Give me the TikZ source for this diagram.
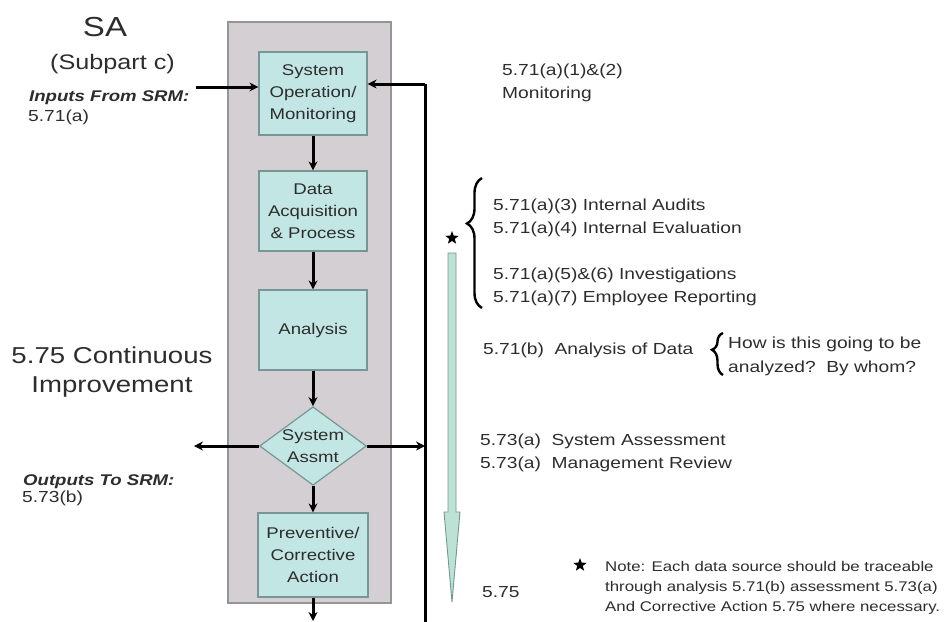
\documentclass[tikz,border=0pt]{standalone}
\usepackage{fontspec}
\setmainfont[FakeStretch=1.2]{Liberation Sans}
\usetikzlibrary{shapes.geometric,arrows.meta,decorations.pathreplacing}
\definecolor{panel}{RGB}{212,207,210}
\definecolor{panelline}{RGB}{150,148,150}
\definecolor{boxfill}{RGB}{194,230,228}
\definecolor{boxline}{RGB}{120,150,150}
\definecolor{ink}{RGB}{45,45,45}
\definecolor{shaft}{RGB}{188,226,214}
\definecolor{shaftline}{RGB}{120,150,145}
\begin{document}
\begin{tikzpicture}[x=1pt,y=-1pt,
  proc/.style={draw=boxline, line width=1.2pt, fill=boxfill, minimum width=108pt,
    align=center, font=\fontsize{15.5}{22}\selectfont, text=ink, inner sep=0pt},
  arr/.style={draw=black, line width=3pt, -{Stealth[length=9pt,width=9pt]}},
  lbl/.style={anchor=base west, text=ink, font=\fontsize{16}{23}\selectfont, align=left, inner sep=0pt},
  lblsm/.style={lbl, font=\fontsize{14}{20}\selectfont},
  brc/.style={draw=black, line width=2.4pt, decorate},
  starmark/.style={star, star points=5, star point ratio=2.4, fill=black, inner sep=0pt, minimum size=14pt}
]
\clip (0,0) rectangle (949,621);
\fill[white] (0,0) rectangle (949,621);

% panel
\node[draw=panelline, fill=panel, line width=1.5pt, minimum width=163pt, minimum height=581pt, inner sep=0pt] (panel) at (309.5,312.5) {};

% process boxes
\node[proc, minimum height=83pt] (b1) at (313,93.5) {System\\Operation/\\Monitoring};
\node[proc, minimum height=80pt] (b2) at (313,211) {Data\\Acquisition\\\& Process};
\node[proc, minimum height=80pt] (b3) at (313,330) {Analysis};
\node[diamond, draw=boxline, fill=boxfill, line width=1.2pt, minimum width=106pt, minimum height=78pt,
  inner sep=0pt, aspect=1.36, align=center, font=\fontsize{15.5}{22}\selectfont, text=ink] (d) at (313,446) {System\\Assmt};
\node[proc, minimum height=84pt, minimum width=110pt] (b5) at (313,555) {Preventive/\\Corrective\\Action};

\draw[arr] (b1) -- (b2);
\draw[arr] (b2) -- (b3);
\draw[arr] (b3) -- (d);
\draw[arr] (d) -- (b5);

% feedback loop
\coordinate (bo) at (313,621);
\coordinate (lb) at (425,640);
\coordinate (lt) at (425,84);
\draw[arr] (b5) -- (bo);
\draw[line width=3pt] (lb) -- (lt);
\draw[arr] (lt) -- (lt -| b1.east);

% input / outputs
\coordinate (in) at (196,87);
\draw[arr] (in) -- (in -| b1.west);
\coordinate (dl) at (194,446);
\draw[arr] (d.west) -- (dl);
\draw[arr] (d.east) -- (d.east -| lt);

% left texts
\node[text=ink, font=\fontsize{27.5}{30}\selectfont, inner sep=0pt] (sa) at (105,27.5) {SA};
\node[text=ink, font=\fontsize{21}{24}\selectfont, inner sep=0pt, anchor=base] (sub) at (112.5,69) {(Subpart c)};
\node[lbl, font=\bfseries\itshape\fontsize{15.5}{20}\selectfont] (inl) at (29,101) {Inputs From SRM:};
\node[lbl] (inn) at (28,121) {5.71(a)};
\node[text=ink, font=\fontsize{23}{29}\selectfont, inner sep=0pt, anchor=base, align=center] (ci) at (112,392) {5.75 Continuous\\Improvement};
\node[lbl, font=\bfseries\itshape\fontsize{15.5}{20}\selectfont] (outl) at (23,485) {Outputs To SRM:};
\node[lbl] (outn) at (22,502) {5.73(b)};

% green arrow
\path[fill=shaft, draw=shaftline, line width=0.9pt] (448,253) -- (456,253) -- (456,512) -- (460,512) -- (452,602) -- (444,512) -- (448,512) -- cycle;
\node[starmark] (st1) at (452,238) {};

% right texts
\node[lbl] (mon) at (502,98) {5.71(a)(1)\&(2)\\Monitoring};
\draw[brc, decoration={brace, amplitude=15pt, aspect=0.65}] (482,308) -- (482,178);
\node[lbl] (l1) at (493,210) {5.71(a)(3) Internal Audits};
\node[lbl] (l2) at (493,233) {5.71(a)(4) Internal Evaluation};
\node[lbl] (l3) at (493,279) {5.71(a)(5)\&(6) Investigations};
\node[lbl] (l4) at (493,302) {5.71(a)(7) Employee Reporting};

\node[lbl] (an) at (483,354) {5.71(b)\ \ Analysis of Data};
\draw[brc, decoration={brace, amplitude=11pt, aspect=0.6}] (723,375) -- (723,333);
\node[lbl] (q1) at (728,348) {How is this going to be};
\node[lbl] (q2) at (728,372) {analyzed?\ \ By whom?};

\node[lbl] (sy) at (480,445) {5.73(a)\ \ System Assessment};
\node[lbl] (mr) at (480,468) {5.73(a)\ \ Management Review};

\node[lbl] (f75) at (482,597) {5.75};
\node[starmark] (st2) at (580,565) {};
\node[lblsm] (n1) at (605,571) {Note: Each data source should be traceable};
\node[lblsm] (n2) at (605,591) {through analysis 5.71(b) assessment 5.73(a)};
\node[lblsm] (n3) at (605,611) {And Corrective Action 5.75 where necessary.};
\end{tikzpicture}
\end{document}
